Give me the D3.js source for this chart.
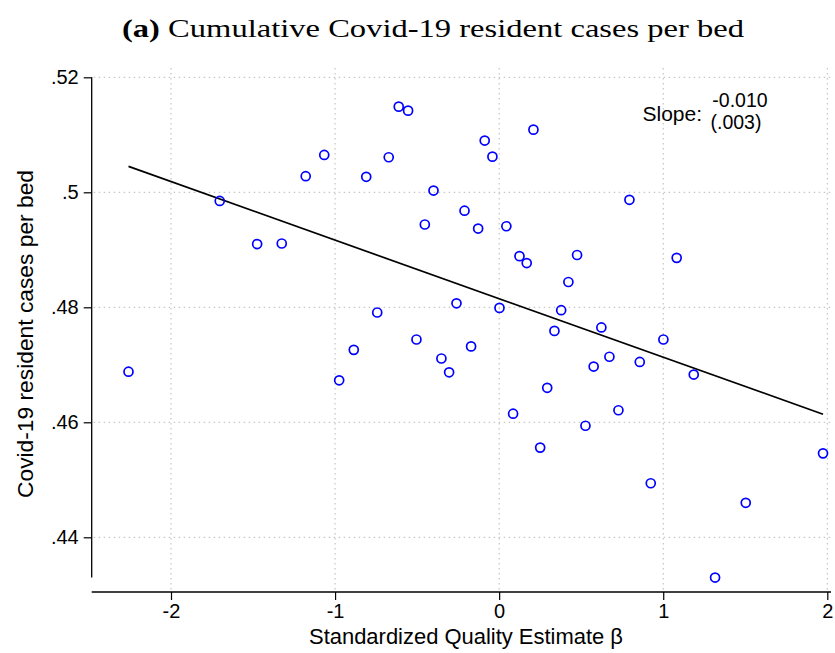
<!DOCTYPE html>
<html><head><meta charset="utf-8">
<script src="https://cdn.jsdelivr.net/npm/d3@7"></script>
<style>body{margin:0;background:#fff}svg{display:block}</style>
</head><body>
<script>
const xVals = [-2.259,-1.703,-1.475,-1.325,-1.179,-1.066,-0.975,-0.886,-0.810,-0.743,-0.673,-0.612,-0.555,-0.504,-0.453,-0.400,-0.352,-0.305,-0.260,-0.211,-0.171,-0.128,-0.088,-0.041,0.002,0.044,0.085,0.124,0.168,0.209,0.250,0.293,0.337,0.378,0.422,0.475,0.526,0.576,0.623,0.672,0.727,0.794,0.857,0.924,1.001,1.082,1.186,1.316,1.503,1.974];
const yVals = [0.4688,0.4985,0.4910,0.4911,0.5028,0.5065,0.4673,0.4726,0.5027,0.4791,0.5061,0.5149,0.5142,0.4744,0.4944,0.5003,0.4711,0.4687,0.4807,0.4968,0.4732,0.4937,0.5090,0.5062,0.4799,0.4941,0.4615,0.4889,0.4877,0.5109,0.4556,0.4660,0.4759,0.4795,0.4844,0.4891,0.4594,0.4697,0.4765,0.4714,0.4621,0.4987,0.4705,0.4494,0.4744,0.4886,0.4683,0.4330,0.4460,0.4546];
const fitX = [-2.259, 1.974];
const fitY = [0.5045, 0.4614];
const xTicks = [-2,-1,0,1,2];
const yTicks = [0.44,0.46,0.48,0.50,0.52];
const yTickLabels = [".44",".46",".48",".5",".52"];
const title = "Cumulative Covid-19 resident cases per bed";
const slopeVal = "-0.010", slopeSE = "(.003)";

const W=835,H=653;
const svg=d3.select("body").append("svg").attr("width",W).attr("height",H);
const x=d3.scaleLinear().domain([-2,2]).range([171,827.3]);
const y=d3.scaleLinear().domain([0.44,0.52]).range([537.3,77.3]);
const left=91.7, right=831, axisY=592, yBottom=y(0.433);
const font="'Liberation Sans', Arial, Helvetica, sans-serif";

// gridlines
const grid=svg.append("g").attr("stroke","#b8b8b8").attr("stroke-width",1).attr("stroke-dasharray","1.5,3.5");
grid.selectAll(".hg").data(yTicks).enter().append("line")
  .attr("x1",left+2).attr("x2",right).attr("y1",d=>y(d)).attr("y2",d=>y(d));
grid.selectAll(".vg").data(xTicks).enter().append("line")
  .attr("y1",68).attr("y2",axisY).attr("x1",d=>x(d)).attr("x2",d=>x(d));

// y axis
const yAxis=d3.axisLeft(y).tickValues(yTicks).tickFormat((d,i)=>yTickLabels[i]).tickSize(8).tickPadding(5);
const gy=svg.append("g").attr("transform",`translate(${left},0)`).call(yAxis);
gy.select(".domain").remove();
gy.append("line").attr("x1",0).attr("x2",0).attr("y1",y(0.52)).attr("y2",yBottom).attr("stroke","#000").attr("stroke-width",1.3);
gy.selectAll("text").attr("font-family",font).attr("font-size",20).attr("fill","#000");
gy.selectAll(".tick line").attr("stroke","#000").attr("stroke-width",1.2);

// x axis
const xAxis=d3.axisBottom(x).tickValues(xTicks).tickFormat(d3.format("d")).tickSize(8).tickPadding(4);
const gx=svg.append("g").attr("transform",`translate(0,${axisY})`).call(xAxis);
gx.select(".domain").remove();
gx.append("line").attr("x1",left).attr("x2",right).attr("y1",0).attr("y2",0).attr("stroke","#000").attr("stroke-width",1.3);
gx.selectAll("text").attr("font-family",font).attr("font-size",20).attr("fill","#000").text(d=>d<0?"-"+Math.abs(d):d);
gx.selectAll(".tick line").attr("stroke","#000").attr("stroke-width",1.2);

// fit line
svg.append("line").attr("x1",x(fitX[0])).attr("y1",y(fitY[0])).attr("x2",x(fitX[1])).attr("y2",y(fitY[1]))
  .attr("stroke","#000").attr("stroke-width",1.7);

// points
svg.append("g").selectAll("circle").data(xVals.map((v,i)=>[v,yVals[i]])).enter().append("circle")
  .attr("cx",d=>x(d[0])).attr("cy",d=>y(d[1])).attr("r",4.5)
  .attr("fill","none").attr("stroke","#0000ff").attr("stroke-width",1.7);

// axis titles
svg.append("text").attr("x",466).attr("y",644).attr("text-anchor","middle")
  .attr("font-family",font).attr("font-size",22).attr("textLength",314).attr("lengthAdjust","spacingAndGlyphs")
  .text("Standardized Quality Estimate β");
svg.append("text").attr("transform","translate(33,334) rotate(-90)").attr("text-anchor","middle")
  .attr("font-family",font).attr("font-size",22).attr("textLength",328).attr("lengthAdjust","spacingAndGlyphs")
  .text("Covid-19 resident cases per bed");

// slope annotation
svg.append("text").attr("x",702).attr("y",121).attr("text-anchor","end").attr("font-family",font).attr("font-size",21)
  .text("Slope:");
svg.append("text").attr("x",740).attr("y",107).attr("text-anchor","middle").attr("font-family",font).attr("font-size",19.5).text(slopeVal);
svg.append("text").attr("x",736).attr("y",129).attr("text-anchor","middle").attr("font-family",font).attr("font-size",19.5).text(slopeSE);

// title
const t=svg.append("text").attr("x",433).attr("y",37).attr("text-anchor","middle")
  .attr("font-family","'Liberation Serif','Times New Roman',serif").attr("font-size",26)
  .attr("textLength",622).attr("lengthAdjust","spacingAndGlyphs");
t.append("tspan").attr("font-weight","bold").text("(a)");
t.append("tspan").text(" "+title);
</script>
</body></html>
